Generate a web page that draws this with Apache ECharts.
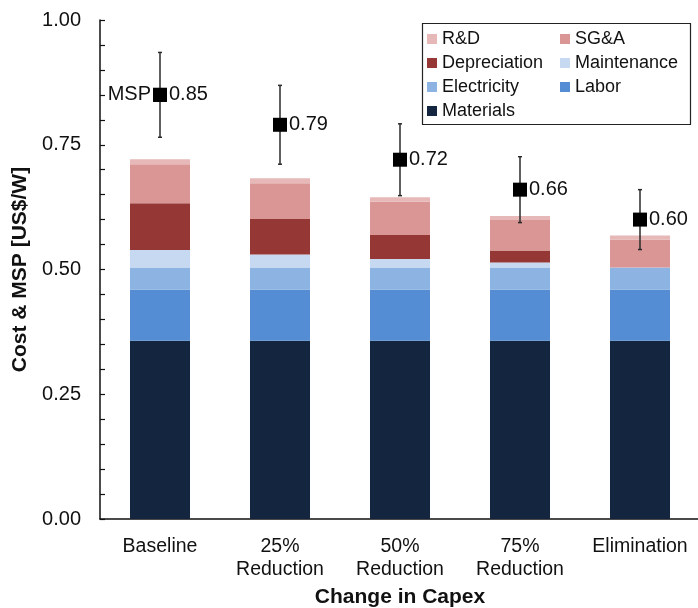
<!DOCTYPE html>
<html>
<head>
<meta charset="utf-8">
<script src="https://cdn.jsdelivr.net/npm/echarts@6/dist/echarts.min.js"></script>
<style>
  html, body { margin: 0; padding: 0; background: #fff; }
  #chart { width: 698px; height: 608px; }
</style>
</head>
<body>
<div id="chart"></div>
<script>
// Cost breakdown per capex scenario (US$/W)
const categories = ['Baseline', '25%\nReduction', '50%\nReduction', '75%\nReduction', 'Elimination'];
const materials    = [0.357, 0.357, 0.357, 0.357, 0.357];
const labor        = [0.103, 0.103, 0.103, 0.103, 0.103];
const electricity  = [0.044, 0.044, 0.044, 0.044, 0.044];
const maintenance  = [0.035, 0.026, 0.017, 0.010, 0.000];
const depreciation = [0.094, 0.071, 0.048, 0.024, 0.000];
const sga          = [0.078, 0.072, 0.067, 0.061, 0.056];
const rnd          = [0.010, 0.010, 0.009, 0.008, 0.008];

// Minimum sustainable price and its uncertainty
const msp      = [0.85, 0.79, 0.72, 0.66, 0.60];
const mspError = [0.085, 0.079, 0.072, 0.066, 0.060];

const yTicks = [0, 0.25, 0.5, 0.75, 1.0];

const FONT = '"Liberation Sans", Arial, sans-serif';

const stackDefs = [
  { name: 'Materials',    data: materials,    color: '#13253f' },
  { name: 'Labor',        data: labor,        color: '#548dd4' },
  { name: 'Electricity',  data: electricity,  color: '#8db3e2' },
  { name: 'Maintenance',  data: maintenance,  color: '#c6d9f1' },
  { name: 'Depreciation', data: depreciation, color: '#953735' },
  { name: 'SG&A',         data: sga,          color: '#d99694' },
  { name: 'R&D',          data: rnd,          color: '#e6b9b8' }
];

const barSeries = stackDefs.map(d => ({
  name: d.name,
  type: 'bar',
  stack: 'cost',
  barWidth: '50%',
  data: d.data,
  itemStyle: { color: d.color },
  emphasis: { disabled: true },
  z: 2
}));

const errorSeries = {
  name: 'MSP error',
  type: 'custom',
  z: 5,
  data: msp.map((v, i) => [i, v, mspError[i]]),
  encode: { x: 0, y: 1 },
  renderItem: function (params, api) {
    const x = api.value(0), y = api.value(1), e = api.value(2);
    const top = api.coord([x, y + e]);
    const bot = api.coord([x, y - e]);
    const cap = 2;
    const style = { stroke: '#2a2a2a', lineWidth: 1.5 };
    return {
      type: 'group',
      children: [
        { type: 'line', shape: { x1: top[0], y1: top[1], x2: bot[0], y2: bot[1] }, style },
        { type: 'line', shape: { x1: top[0] - cap, y1: top[1], x2: top[0] + cap, y2: top[1] }, style },
        { type: 'line', shape: { x1: bot[0] - cap, y1: bot[1], x2: bot[0] + cap, y2: bot[1] }, style }
      ]
    };
  }
};

const markerLabel = { show: true, distance: 2, fontFamily: FONT, fontSize: 20, color: '#111' };

const mspSeries = {
  name: 'MSP',
  type: 'scatter',
  symbol: 'rect',
  symbolSize: 14,
  z: 6,
  data: msp,
  itemStyle: { color: '#000', opacity: 1 },
  emphasis: { disabled: true },
  label: Object.assign({}, markerLabel, {
    position: 'right',
    formatter: p => p.value.toFixed(2)
  })
};

const mspTag = {
  name: 'MSP tag',
  type: 'scatter',
  symbol: 'rect',
  symbolSize: 14,
  z: 6,
  data: [[0, msp[0]]],
  itemStyle: { color: '#000', opacity: 1 },
  emphasis: { disabled: true },
  label: Object.assign({}, markerLabel, {
    position: 'left',
    formatter: 'MSP'
  })
};

const legendText = { fontFamily: FONT, fontSize: 18, color: '#111', lineHeight: 17 };

const option = {
  animation: false,
  backgroundColor: '#fff',
  grid: {
    left: 100, top: 20, width: 600, bottom: 89,
    containLabel: false, outerBoundsMode: 'none'
  },
  legend: [
    {
      orient: 'vertical', left: 427, top: 30, itemGap: 6, padding: 0,
      itemWidth: 10, itemHeight: 10, icon: 'rect',
      textStyle: legendText,
      data: ['R&D', 'Depreciation', 'Electricity', 'Materials'],
      selectedMode: false
    },
    {
      orient: 'vertical', left: 560, top: 30, itemGap: 6, padding: 0,
      itemWidth: 10, itemHeight: 10, icon: 'rect',
      textStyle: legendText,
      data: ['SG&A', 'Maintenance', 'Labor'],
      selectedMode: false
    }
  ],
  graphic: [
    {
      type: 'rect', left: 420, top: 21, z: 10, silent: true,
      shape: { width: 268, height: 101 },
      style: { fill: 'none', stroke: '#222', lineWidth: 1.2 }
    }
  ],
  xAxis: {
    type: 'category',
    data: categories,
    name: 'Change in Capex',
    nameLocation: 'middle',
    nameGap: 68,
    nameTextStyle: { fontFamily: FONT, fontSize: 21, fontWeight: 'bold', color: '#111' },
    axisLine: { lineStyle: { color: '#111', width: 1.5 } },
    axisTick: { show: false },
    axisLabel: { fontFamily: FONT, fontSize: 19.5, color: '#111', margin: 16, lineHeight: 23, interval: 0 }
  },
  yAxis: {
    type: 'value',
    min: yTicks[0],
    max: yTicks[yTicks.length - 1],
    interval: yTicks[1] - yTicks[0],
    name: 'Cost & MSP [US$/W]',
    nameLocation: 'middle',
    nameGap: 60,
    nameRotate: 90,
    nameTextStyle: { fontFamily: FONT, fontSize: 21, fontWeight: 'bold', color: '#111' },
    axisLine: { show: true, lineStyle: { color: '#111', width: 1.5 } },
    axisTick: { show: true, inside: true, length: 5, lineStyle: { color: '#111', width: 1.2 } },
    minorTick: { show: true, splitNumber: 5, length: 5, lineStyle: { color: '#111', width: 1.2 } },
    splitLine: { show: false },
    axisLabel: {
      fontFamily: FONT, fontSize: 20, color: '#111', margin: 19,
      formatter: v => v.toFixed(2)
    }
  },
  series: [...barSeries, errorSeries, mspSeries, mspTag]
};

const chart = echarts.init(document.getElementById('chart'), null, { renderer: 'canvas' });
chart.setOption(option);
</script>
</body>
</html>
